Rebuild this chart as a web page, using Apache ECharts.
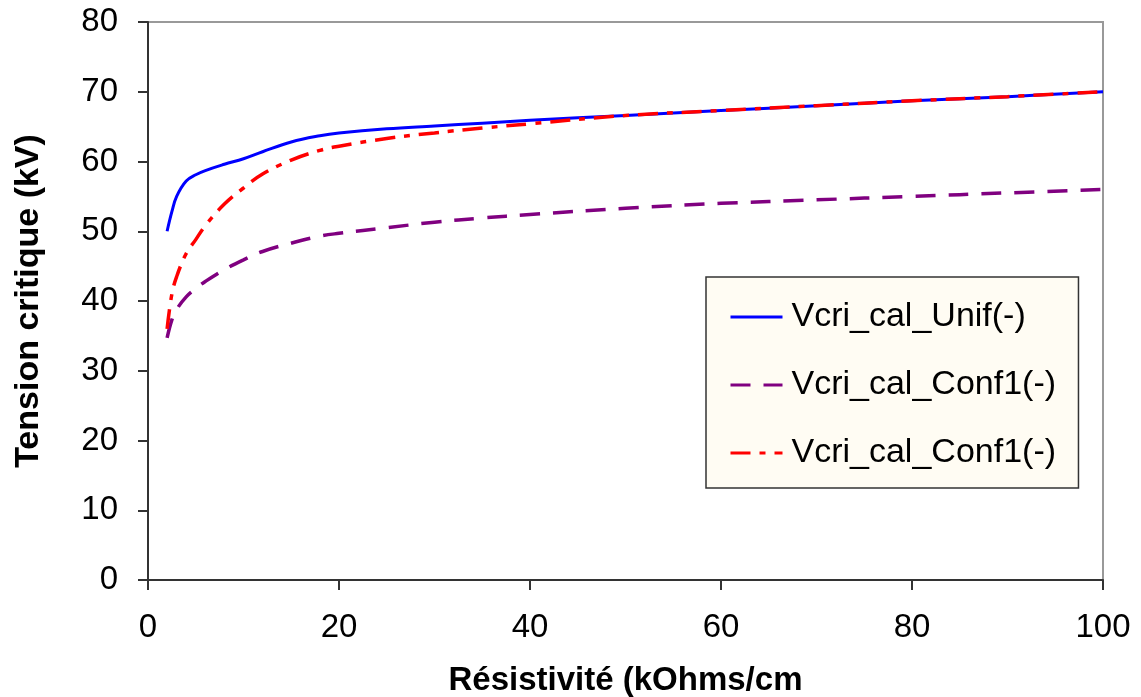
<!DOCTYPE html>
<html>
<head>
<meta charset="utf-8">
<script src="https://cdn.jsdelivr.net/npm/echarts@6/dist/echarts.min.js"></script>
<style>
  html, body { margin: 0; padding: 0; background: #fff; }
  #main { width: 1141px; height: 697px; }
</style>
</head>
<body>
<div id="main"></div>
<script>
// résistivité (kOhms/cm)
const resist = [2, 2.5, 3, 4, 5, 6, 8, 10, 12, 15, 18, 20, 25, 30, 35, 40, 50, 60, 70, 80, 90, 100];
// tension critique (kV)
const vUnif  = [50, 52.8, 55, 57.2, 58.1, 58.7, 59.6, 60.4, 61.4, 62.8, 63.7, 64.1, 64.7, 65.1, 65.5, 65.9, 66.6, 67.3, 68.0, 68.7, 69.3, 70];
const vConf1 = [34.7, 37.3, 38.8, 40.6, 41.8, 42.8, 44.5, 45.9, 47.1, 48.3, 49.3, 49.7, 50.5, 51.3, 51.9, 52.4, 53.3, 54.0, 54.5, 55.0, 55.5, 56];
const vConf2 = [36, 41, 43.5, 46.8, 48.8, 50.8, 53.9, 56.2, 58.2, 60.2, 61.6, 62.2, 63.3, 64.1, 64.8, 65.4, 66.6, 67.3, 68.0, 68.7, 69.3, 70];
const xTicks = [0, 20, 40, 60, 80, 100];
const yTicks = [0, 10, 20, 30, 40, 50, 60, 70, 80];

const pairs = (ys) => resist.map((x, i) => [x, ys[i]]);

let myChart = echarts.init(document.querySelector('#main'));

const font = 'Liberation Sans, Arial, sans-serif';

let option = {
  animation: false,
  textStyle: { fontFamily: font },
  grid: {
    left: 148, right: 38, top: 22, bottom: 117,
    outerBoundsMode: 'none', containLabel: false,
    show: true, borderColor: '#999', borderWidth: 2, backgroundColor: 'transparent'
  },
  legend: {
    orient: 'vertical',
    left: 706, top: 277,
    backgroundColor: '#fffcf3',
    borderColor: '#333', borderWidth: 1.5,
    padding: [23, 13, 18, 23],
    itemWidth: 52, itemHeight: 14,
    itemGap: 34,
    itemStyle: { opacity: 0 },
    lineStyle: { width: 3 },
    textStyle: { fontSize: 34, color: '#000', fontFamily: font, padding: [0, 0, 0, 4] },
    data: ['Vcri_cal_Unif(-)', 'Vcri_cal_Conf1(-)', 'Vcri_cal_Conf1(-) ']
  },
  xAxis: {
    type: 'value', min: 0, max: 100, interval: 20,
    name: 'Résistivité (kOhms/cm', nameLocation: 'middle', nameGap: 84,
    nameTextStyle: { fontSize: 33, fontWeight: 'bold', color: '#000', fontFamily: font },
    axisLine: { lineStyle: { color: '#333', width: 2 } },
    axisTick: { show: true, length: 10, lineStyle: { color: '#333', width: 2 } },
    axisLabel: { fontSize: 33, color: '#000', margin: 31, formatter: (v) => xTicks.includes(v) ? String(v) : '' },
    splitLine: { show: false }
  },
  yAxis: {
    type: 'value', min: 0, max: 80, interval: 10,
    name: 'Tension critique (kV)', nameLocation: 'middle', nameGap: 102,
    nameTextStyle: { fontSize: 34, fontWeight: 'bold', color: '#000', fontFamily: font },
    axisLine: { show: true, lineStyle: { color: '#333', width: 2 } },
    axisTick: { show: true, length: 10, lineStyle: { color: '#333', width: 2 } },
    axisLabel: { fontSize: 33, color: '#000', margin: 30, formatter: (v) => yTicks.includes(v) ? String(v) : '' },
    splitLine: { show: false }
  },
  series: [
    {
      name: 'Vcri_cal_Unif(-)', type: 'line', data: pairs(vUnif),
      smooth: 0.4, symbol: 'none', color: '#0000ff',
      lineStyle: { color: '#0000ff', width: 3 }
    },
    {
      name: 'Vcri_cal_Conf1(-)', type: 'line', data: pairs(vConf1),
      smooth: 0.4, symbol: 'none', color: '#800080',
      lineStyle: { color: '#800080', width: 3.5, type: [20, 13] }
    },
    {
      name: 'Vcri_cal_Conf1(-) ', type: 'line', data: pairs(vConf2),
      smooth: 0.4, symbol: 'none', color: '#ff0000',
      lineStyle: { color: '#ff0000', width: 3.5, type: [20, 9, 6, 9] }
    }
  ]
};

myChart.setOption(option);
</script>
</body>
</html>
